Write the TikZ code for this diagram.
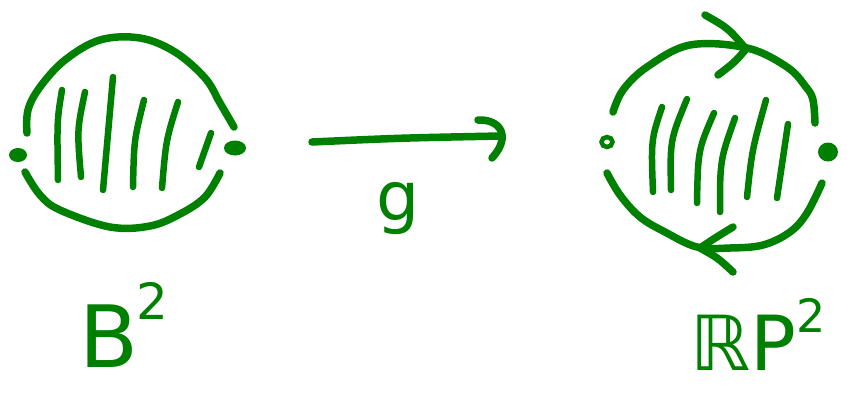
\documentclass[tikz,border=0pt]{standalone}
\usepackage{fontspec}
\newfontfamily\hand{DejaVu Sans}
\definecolor{ink}{RGB}{0,128,0}
\begin{document}
\begin{tikzpicture}[x=1pt,y=-1pt,
  pen/.style={draw=ink,line width=7.5pt,line cap=round,line join=round},
  hatch/.style={draw=ink,line width=6.5pt,line cap=round},
  dot/.style={fill=ink,draw=none},
  lbl/.style={text=ink,inner sep=0pt,font=\hand}]
\useasboundingbox (0,0) rectangle (860,392);

% ---------- left disk B^2 ----------
\draw[pen] plot[smooth,tension=0.6] coordinates {(27,133) (28,110) (40,87) (65,60) (100,40) (140,38) (175,52) (205,78) (220,103) (234,127)};
\draw[pen] plot[smooth,tension=0.6] coordinates {(25,172) (40,195) (60,210) (110,227) (150,226) (180,214) (205,197) (220,173)};
\fill[dot] (18,155) ellipse [x radius=9, y radius=7];
\fill[dot] (235,148) ellipse [x radius=11, y radius=7.5];
\draw[hatch] (62,90) .. controls (57,120) .. (58,180);
\draw[hatch] (85,92) .. controls (77,130) .. (81,177);
\draw[hatch] (113,77) -- (103,190);
\draw[hatch] (144,100) .. controls (134,140) .. (133,187);
\draw[hatch] (178,102) .. controls (166,140) .. (162,188);
\draw[hatch] (211,133) -- (199,167);

% ---------- arrow g ----------
\coordinate (a1) at (312,142);
\coordinate (a2) at (500,136);
\draw[pen] (a1) .. controls (400,138) .. (a2);
\draw[pen] (478,120) .. controls (500,119) and (512,136) .. (492,158);
\node[lbl,font=\hand\fontsize{68}{70}\selectfont,anchor=base] (g) at (398,220) {g};

% ---------- right disk RP^2 ----------
\draw[pen] plot[smooth,tension=0.6] coordinates {(613,112) (623,90) (647,67) (690,45) (747,48) (787,67) (806,87) (813,100) (815,123)};
\draw[pen] plot[smooth,tension=0.6] coordinates {(607,173) (620,195) (640,217) (665,232) (697,247) (730,248) (763,245) (790,232) (807,213) (822,183)};
\draw[pen] (705,15) .. controls (728,28) .. (746,49) .. controls (735,62) .. (718,75);
\draw[pen] (733,227) .. controls (715,238) .. (700,248) .. controls (718,258) .. (733,272);
\draw[draw=ink,line width=4.5pt] (607,142) ellipse [x radius=5.5, y radius=5];
\fill[dot] (828,152) ellipse [x radius=10, y radius=9.5];
\draw[hatch] (662,107) .. controls (651,140) .. (653,192);
\draw[hatch] (687,99) .. controls (670,140) .. (671,190);
\draw[hatch] (714,113) .. controls (698,150) .. (697,203);
\draw[hatch] (735,118) .. controls (720,160) .. (720,212);
\draw[hatch] (766,100) .. controls (752,150) .. (747,197);
\draw[hatch] (788,124) -- (777,198);

% ---------- labels ----------
\node[lbl,font=\hand\fontsize{86}{90}\selectfont,anchor=base west] (b2) at (79,367)
  {B\kern-2pt\raisebox{0.55em}{\fontsize{50}{52}\selectfont 2}};
\node[lbl,font=\hand\fontsize{76}{78}\selectfont,anchor=base west] (rp2) at (690,370)
  {ℝP\raisebox{0.5em}{\fontsize{46}{48}\selectfont 2}};
\end{tikzpicture}
\end{document}
